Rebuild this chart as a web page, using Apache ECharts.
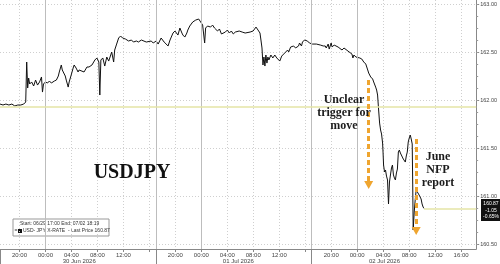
<!DOCTYPE html>
<html><head><meta charset="utf-8">
<script src="https://cdn.jsdelivr.net/npm/echarts@6/dist/echarts.min.js"></script>
<style>html,body{margin:0;padding:0;background:#fff}#c{width:500px;height:264px}</style>
</head><body><div id="c"></div>
<script>
// time in hours since 2026-06-29 00:00
const times = [17.00,17.46,17.91,18.37,18.83,19.28,19.74,20.20,20.65,20.96,21.11,21.26,21.41,21.57,21.87,22.18,22.48,22.78,23.09,23.39,23.54,23.70,24.00,24.31,24.61,24.91,25.37,25.68,25.98,26.13,26.44,26.59,26.74,27.05,27.20,27.50,27.65,27.96,28.26,28.42,28.72,29.02,29.18,29.48,29.94,30.39,30.70,31.16,31.61,31.92,32.07,32.22,32.37,32.53,32.83,33.13,33.44,33.74,34.05,34.20,34.50,34.66,34.96,35.27,35.57,35.87,36.33,36.79,37.24,37.55,38.00,38.31,38.77,39.07,39.53,39.83,40.29,40.59,41.05,41.35,41.81,42.27,42.57,42.88,43.18,43.64,43.94,44.09,44.40,44.70,45.01,45.16,45.46,45.77,45.92,46.22,46.68,47.14,47.59,47.90,48.20,48.51,48.66,48.96,49.42,49.73,50.03,50.49,50.79,51.10,51.40,51.70,52.01,52.31,52.62,52.92,53.23,53.53,53.83,54.29,54.75,55.05,55.51,55.97,56.27,56.42,56.73,56.88,57.03,57.18,57.34,57.49,57.64,57.79,57.94,58.10,58.25,58.40,58.71,59.01,59.31,59.62,59.92,60.08,60.38,60.68,60.84,61.29,61.45,61.75,62.05,62.21,62.51,62.66,62.97,63.12,63.42,63.58,63.88,64.03,64.34,64.64,65.10,65.71,66.32,66.77,67.08,67.23,67.53,67.69,67.99,68.14,68.45,68.75,69.06,69.36,69.66,69.97,70.27,70.58,70.88,71.19,71.34,71.49,71.80,72.10,72.40,72.71,73.01,73.32,73.62,73.77,74.08,74.23,74.38,74.54,74.84,74.99,75.14,75.30,75.45,75.60,75.75,75.91,75.98,76.06,76.21,76.36,76.51,76.67,76.82,76.97,77.12,77.28,77.43,77.58,77.73,77.88,78.04,78.19,78.34,78.49,78.65,78.95,79.10,79.41,79.56,79.71,79.86,80.01,80.17,80.32,80.47,80.55,80.62,80.78,80.93,81.08,81.38,81.54,81.69,81.84,81.99,82.15,82.30];
const prices = [161.958,161.948,161.958,161.948,161.958,161.938,161.948,161.948,161.958,161.979,162.396,162.125,162.229,162.167,162.188,162.146,162.208,162.156,162.188,162.240,162.083,162.167,162.188,162.177,162.198,162.177,162.198,162.208,162.250,162.292,162.365,162.313,162.292,162.250,162.208,162.135,162.188,162.260,162.333,162.365,162.333,162.292,162.313,162.313,162.292,162.344,162.344,162.365,162.417,162.438,162.458,162.396,162.052,162.417,162.438,162.354,162.448,162.406,162.469,162.500,162.396,162.521,162.583,162.646,162.667,162.646,162.635,162.615,162.625,162.604,162.615,162.604,162.625,162.625,162.604,162.594,162.615,162.594,162.615,162.583,162.646,162.604,162.604,162.563,162.625,162.698,162.719,162.729,162.677,162.750,162.698,162.677,162.656,162.698,162.729,162.771,162.813,162.833,162.844,162.813,162.781,162.594,162.750,162.771,162.760,162.781,162.750,162.719,162.740,162.688,162.677,162.708,162.729,162.698,162.719,162.688,162.708,162.698,162.719,162.708,162.698,162.708,162.708,162.719,162.729,162.760,162.729,162.719,162.698,162.625,162.542,162.365,162.448,162.354,162.469,162.385,162.448,162.417,162.469,162.438,162.469,162.438,162.448,162.406,162.458,162.469,162.490,162.521,162.500,162.552,162.542,162.563,162.542,162.531,162.563,162.594,162.563,162.604,162.625,162.635,162.615,162.594,162.583,162.583,162.573,162.563,162.563,162.542,162.583,162.531,162.594,162.552,162.573,162.563,162.552,162.542,162.521,162.542,162.531,162.510,162.521,162.479,162.438,162.469,162.448,162.438,162.438,162.427,162.396,162.375,162.313,162.281,162.240,162.260,162.219,162.188,162.135,162.104,162.052,161.896,161.760,161.688,161.646,161.552,161.458,161.323,161.250,161.271,161.208,161.167,160.917,161.146,161.219,161.292,161.323,161.219,161.188,161.167,161.240,161.281,161.458,161.479,161.448,161.406,161.385,161.354,161.417,161.458,161.563,161.604,161.635,161.594,161.542,161.115,160.646,160.833,160.958,161.063,161.073,161.010,160.990,160.969,160.917,160.885,160.870];

const xMin = 17, xMax = 90.32;
const yMin = 160.448, yMax = 163.042;
const priceTicks = [160.5,161,161.5,162,162.5,163];
const minorPriceTicks = [160.5,160.625,160.75,160.875,161,161.125,161.25,161.375,161.5,161.625,161.75,161.875,162,162.125,162.25,162.375,162.5,162.625,162.75,162.875,163];
const hourTicks = [20,24,28,32,36,40,44,48,52,56,60,64,68,72,76,80,84,88];
const hourLabels = [20,24,28,32,36,44,48,52,56,60,68,72,76,80,84,88];
const solidLines = [24,41,48,65,72];
const sessionBreaks = [17,41,65];
const dayLabelPos = [29.2,53.7,76.2];
const dayLabels = ['30 Jun 2026','01 Jul 2026','02 Jul 2026'];
const refLevel = 161.927;
const lastPrice = 160.87;
const lastChange = '-1.05';
const lastPct = '-0.65%';
const arrow1 = {t:73.77, from:162.208, to:161.115};
const arrow2 = {t:81.08, from:161.594, to:160.635};

const chart = echarts.init(document.getElementById('c'), null, {renderer:'canvas'});
const data = times.map((t,i)=>[t,prices[i]]);
const lastT = times[times.length-1];
const orange = '#efa52f';
const pale = '#e4e4a6';

function arrowSeries(a){
  return {type:'line', data:[], xAxisIndex:0, yAxisIndex:0, z:6, silent:true,
    markLine:{silent:true, animation:false, symbol:['none','triangle'], symbolSize:[9,8], symbolRotate:180,
      label:{show:false}, lineStyle:{color:orange, width:3, type:[5,3]},
      data:[[{coord:[a.t,a.from]},{coord:[a.t,a.to]}]]}};
}

const option = {
  animation:false,
  backgroundColor:'#fff',
  grid:{left:0, right:19, top:0, bottom:15},
  xAxis:[
    {type:'value', min:xMin, max:xMax, position:'bottom',
     axisLine:{lineStyle:{color:'#888', width:1}},
     axisTick:{customValues:hourTicks, length:3, lineStyle:{color:'#888'}},
     axisLabel:{customValues:hourLabels, fontSize:6, color:'#444', margin:3, fontFamily:'Liberation Sans',
       formatter:v=>{const h=Math.round(v)%24; return (h<10?'0':'')+h+':00';}},
     splitLine:{show:true, lineStyle:{color:'#cfcfcf', type:[1,2], width:1}}},
    {type:'value', min:xMin, max:xMax, position:'bottom',
     axisLine:{show:false},
     axisTick:{show:true, customValues:sessionBreaks, length:15, lineStyle:{color:'#888'}},
     axisLabel:{customValues:dayLabelPos, fontSize:6, color:'#444', margin:9, fontFamily:'Liberation Sans',
       formatter:v=>{const i=dayLabelPos.findIndex(p=>Math.abs(p-v)<0.01); return i>=0?dayLabels[i]:'';}},
     splitLine:{show:false}}
  ],
  yAxis:[
    {type:'value', min:yMin, max:yMax, position:'right',
     axisLine:{show:true, lineStyle:{color:'#888'}},
     axisTick:{customValues:priceTicks, length:3, lineStyle:{color:'#888'}},
     axisLabel:{customValues:priceTicks, fontSize:5.5, color:'#444', margin:4, fontFamily:'Liberation Sans',
       formatter:v=>v.toFixed(2)},
     splitLine:{show:true, lineStyle:{color:'#cfcfcf', type:[1,2], width:1}}},
    {type:'value', min:yMin, max:yMax, position:'right',
     axisLine:{show:false},
     axisTick:{show:true, customValues:minorPriceTicks, length:2, lineStyle:{color:'#999'}},
     axisLabel:{show:false}, splitLine:{show:false}}
  ],
  series:[
    {type:'line', data:[], z:1, silent:true,
     markLine:{silent:true, animation:false, symbol:'none', label:{show:false},
       lineStyle:{color:'#bdbdbd', width:1, type:'solid'},
       data:solidLines.map(v=>({xAxis:v}))}},
    {type:'line', data:[], z:2, silent:true,
     markLine:{silent:true, animation:false, symbol:'none', label:{show:false},
       lineStyle:{color:pale, width:1.5, type:'solid'},
       data:[{yAxis:refLevel}, [{coord:[lastT,lastPrice]},{coord:[xMax,lastPrice]}]]}},
    {type:'line', data:data, z:4, showSymbol:false, symbol:'none',
     lineStyle:{color:'#111', width:1}},
    arrowSeries(arrow1),
    arrowSeries(arrow2)
  ],
  graphic:[
    {type:'text', x:344, y:93, z:10, style:{text:'Unclear\ntrigger for\nmove',
      font:'bold 12px "Liberation Serif"', fill:'#1c1c1c', align:'center', lineHeight:13,
      shadowColor:'rgba(0,0,0,0.35)', shadowBlur:3, shadowOffsetX:1, shadowOffsetY:1}},
    {type:'text', x:438, y:150, z:10, style:{text:'June\nNFP\nreport',
      font:'bold 12px "Liberation Serif"', fill:'#1c1c1c', align:'center', lineHeight:13,
      shadowColor:'rgba(0,0,0,0.35)', shadowBlur:3, shadowOffsetX:1, shadowOffsetY:1}},
    {type:'text', x:132, y:163, z:10, style:{text:'USDJPY',
      font:'bold 20px "Liberation Serif"', fill:'#111', align:'center',
      shadowColor:'rgba(0,0,0,0.55)', shadowBlur:4, shadowOffsetX:2, shadowOffsetY:2}},
    {type:'group', x:13, y:219, z:10, children:[
      {type:'rect', shape:{x:0,y:0,width:96,height:17}, style:{fill:'#fff', stroke:'#999', lineWidth:1}},
      {type:'text', x:7, y:2.5, style:{text:'Start: 06/29 17:00 End: 07/02 18:19', font:'5px "Liberation Sans"', fill:'#333'}},
      {type:'text', x:1.5, y:9.5, style:{text:'=', font:'5px "Liberation Sans"', fill:'#333'}},
      {type:'rect', shape:{x:5,y:10,width:4,height:4}, style:{fill:'#111'}},
      {type:'text', x:10, y:9.5, style:{text:'USD- JPY X-RATE  - Last Price 160.87', font:'5px "Liberation Sans"', fill:'#333'}}
    ]},
    {type:'group', x:481, y:199, z:10, children:[
      {type:'rect', shape:{x:0,y:0,width:19,height:22}, style:{fill:'#111'}},
      {type:'text', x:10, y:1.5, style:{text:lastPrice.toFixed(2)+'\n'+lastChange+'\n'+lastPct, font:'5px "Liberation Sans"', fill:'#fff', align:'center', lineHeight:6.5}}
    ]}
  ]
};
chart.setOption(option);
</script>
</body></html>
